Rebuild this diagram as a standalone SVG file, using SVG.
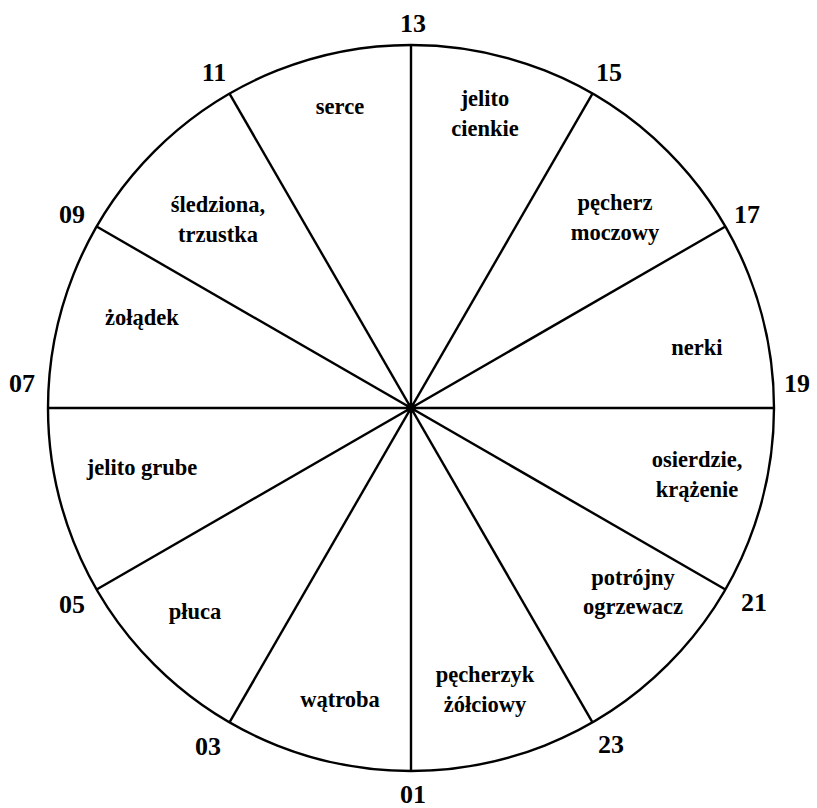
<svg xmlns="http://www.w3.org/2000/svg" width="817" height="808" viewBox="0 0 817 808">
<style>
.l{stroke:#000;stroke-width:2.4;fill:none}
.h{font-family:"Liberation Serif","Times New Roman",serif;font-weight:bold;font-size:26px;fill:#000;text-anchor:middle}
.t{font-family:"Liberation Serif","Times New Roman",serif;font-weight:bold;font-size:22.5px;fill:#000;text-anchor:middle}
</style>
<rect width="817" height="808" fill="#fff"/>
<g id="connectors">
<circle class="l" cx="411" cy="408" r="363"/>
<line class="l" x1="411" y1="45" x2="411" y2="771"/>
<line class="l" x1="48" y1="408" x2="774" y2="408"/>
<line class="l" x1="229.5" y1="93.6" x2="592.5" y2="722.4"/>
<line class="l" x1="592.5" y1="93.6" x2="229.5" y2="722.4"/>
<line class="l" x1="96.6" y1="226.5" x2="725.4" y2="589.5"/>
<line class="l" x1="725.4" y1="226.5" x2="96.6" y2="589.5"/>
<circle cx="411" cy="408" r="5" fill="#000"/>
</g>
<g id="hours">
<text class="h" x="413" y="32">13</text>
<text class="h" x="214" y="81">11</text>
<text class="h" x="609" y="81">15</text>
<text class="h" x="72" y="223">09</text>
<text class="h" x="747" y="223">17</text>
<text class="h" x="22" y="392">07</text>
<text class="h" x="797" y="392">19</text>
<text class="h" x="72" y="613">05</text>
<text class="h" x="754" y="611">21</text>
<text class="h" x="208" y="755">03</text>
<text class="h" x="611" y="753">23</text>
<text class="h" x="413" y="803">01</text>
</g>
<g id="serce"><text class="t" x="340" y="114">serce</text></g>
<g id="jelito-cienkie"><text class="t" x="485" y="106">jelito</text><text class="t" x="485" y="136">cienkie</text></g>
<g id="sledziona"><text class="t" x="218" y="212">śledziona,</text><text class="t" x="218" y="242">trzustka</text></g>
<g id="pecherz"><text class="t" x="615" y="210">pęcherz</text><text class="t" x="615" y="240">moczowy</text></g>
<g id="zoladek"><text class="t" x="142" y="325">żołądek</text></g>
<g id="nerki"><text class="t" x="697" y="355">nerki</text></g>
<g id="jelito-grube"><text class="t" x="142" y="475">jelito grube</text></g>
<g id="osierdzie"><text class="t" x="697" y="467">osierdzie,</text><text class="t" x="697" y="497">krążenie</text></g>
<g id="pluca"><text class="t" x="195" y="619">płuca</text></g>
<g id="potrojny"><text class="t" x="633" y="585">potrójny</text><text class="t" x="633" y="614">ogrzewacz</text></g>
<g id="watroba"><text class="t" x="340" y="707">wątroba</text></g>
<g id="pecherzyk"><text class="t" x="485" y="682">pęcherzyk</text><text class="t" x="485" y="712">żółciowy</text></g>
</svg>
